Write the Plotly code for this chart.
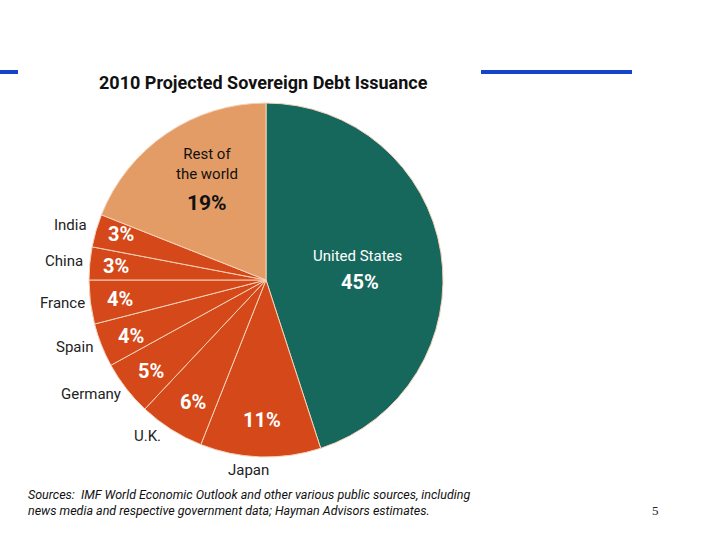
import math
import plotly.graph_objects as go

# ---- data ----
countries = ["United States", "Japan", "U.K.", "Germany", "Spain", "France", "China", "India", "Rest of<br>the world"]
shares = [45, 11, 6, 5, 4, 4, 3, 3, 19]
title_text = "2010 Projected Sovereign Debt Issuance"
source_text = ("Sources:  IMF World Economic Outlook and other various public sources, including<br>"
               "news media and respective government data; Hayman Advisors estimates.")
page_number = "5"

# ---- style ----
W, H = 720, 540
CX, CY, R = 266, 280, 177
colors = ["#17685c", "#d4481a", "#d4481a", "#d4481a", "#d4481a", "#d4481a", "#d4481a", "#d4481a", "#e49c67"]
pct_radius = [0.52, 0.79, 0.81, 0.83, 0.83, 0.83, 0.85, 0.86, 0.63]
pct_nudge = [(3, 0), (0, 0), (4, 1), (1, 1), (2, 2), (0, 1), (0, 0), (1, -4), (0, 0)]
pct_color = ["white"] * 8 + ["#111111"]
name_radius = [0.52, 1.08, 1.11, 1.18, 1.15, 1.16, 1.15, 1.15, 0.63]
name_nudge = [(-2, 0), (-11, -1), (-13, -10), (-10, -14), (-2, -8), (0, -3), (1, 0), (0, 2), (0, 0)]
FONT = "Roboto, Open Sans, sans-serif"

fig = go.Figure(go.Pie(
    labels=countries,
    values=shares,
    sort=False,
    direction="clockwise",
    rotation=0,
    marker=dict(colors=colors, line=dict(color="#f6d2b8", width=1)),
    textinfo="none",
    hoverinfo="label+percent",
    showlegend=False,
    domain=dict(x=[(CX - R) / W, (CX + R) / W], y=[1 - (CY + R) / H, 1 - (CY - R) / H]),
))


def to_px(frac, r_frac):
    theta = 2 * math.pi * frac
    return CX + R * r_frac * math.sin(theta), CY - R * r_frac * math.cos(theta)


def ann(px, py, text, size, color, xanchor="center", yanchor="middle", align="center"):
    return dict(x=px / W, y=1 - py / H, text=text, showarrow=False, xref="paper", yref="paper",
                xanchor=xanchor, yanchor=yanchor, align=align,
                font=dict(family=FONT, size=size, color=color))


total = sum(shares)
cum = 0
annotations = []
for i, (name, v) in enumerate(zip(countries, shares)):
    mid = (cum + v / 2) / total
    cum += v
    px, py = to_px(mid, pct_radius[i])
    px += pct_nudge[i][0]
    py += pct_nudge[i][1]
    if i == 0:
        annotations.append(ann(px + name_nudge[i][0], py - 10, name, 15, "white"))
        annotations.append(ann(px, py + 16, f"<b>{v}%</b>", 20, "white"))
    elif i == len(shares) - 1:
        annotations.append(ann(px + 4, py - 3, name, 15, "#111111", yanchor="bottom"))
        annotations.append(ann(px + 4, py + 15, f"<b>{v}%</b>", 21, "#111111"))
    else:
        annotations.append(ann(px, py, f"<b>{v}%</b>", 20, pct_color[i]))
        nx, ny = to_px(mid, name_radius[i])
        annotations.append(ann(nx + name_nudge[i][0], ny + name_nudge[i][1], name, 15, "#222222"))

annotations.append(ann(97, 83, f"<b>{title_text}</b>", 18, "#111111", xanchor="left"))
annotations.append(ann(26, 502, f"<i>{source_text}</i>", 12.5, "#111111", xanchor="left", align="left"))
annotations.append(dict(x=655 / W, y=1 - 510 / H, text=page_number, showarrow=False,
                        xref="paper", yref="paper", xanchor="center", yanchor="middle",
                        font=dict(family="Liberation Serif, serif", size=13, color="#222222")))

shapes = [
    dict(type="rect", xref="paper", yref="paper", x0=0, x1=18 / W, y0=1 - 74 / H, y1=1 - 70 / H,
         fillcolor="#1444cc", line=dict(width=0)),
    dict(type="rect", xref="paper", yref="paper", x0=481 / W, x1=632 / W, y0=1 - 74 / H, y1=1 - 70 / H,
         fillcolor="#1444cc", line=dict(width=0)),
]

fig.update_layout(
    width=W, height=H,
    margin=dict(l=0, r=0, t=0, b=0),
    paper_bgcolor="white", plot_bgcolor="white",
    annotations=annotations,
    shapes=shapes,
)

fig.write_html("out.html", config={"displayModeBar": False},
               post_script="document.body.style.margin='0px';")
